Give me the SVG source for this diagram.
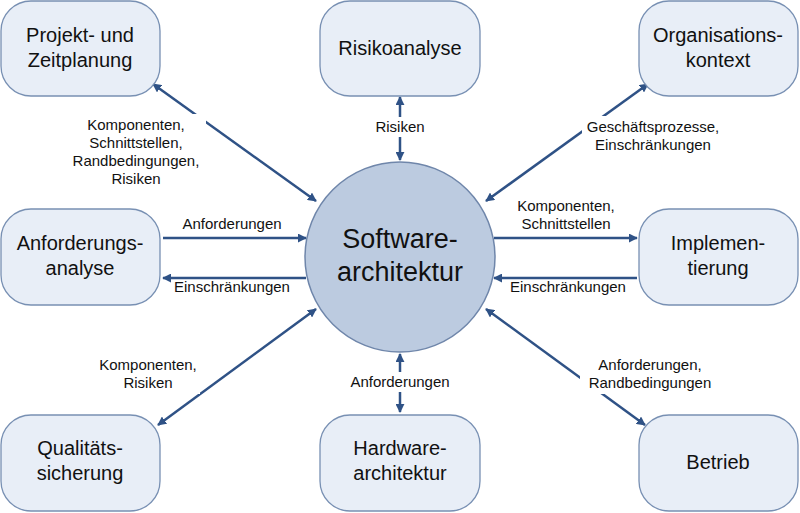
<svg xmlns="http://www.w3.org/2000/svg" width="800" height="513" viewBox="0 0 800 513">
<defs>
<marker id="a" viewBox="0 0 10 10" refX="9" refY="5" markerWidth="9" markerHeight="9" markerUnits="userSpaceOnUse" orient="auto-start-reverse"><path d="M0,0 L10,5 L0,10 z" fill="#2f5286"/></marker>
<style>
.n rect{fill:#e8eef7;stroke:#7890b3;stroke-width:1.3}
.n text{font-family:"Liberation Sans",Arial,sans-serif;font-size:20px;fill:#111;text-anchor:middle}
.l{font-family:"Liberation Sans",Arial,sans-serif;font-size:15px;fill:#111;text-anchor:middle}
.c line{stroke:#2f5286;stroke-width:2.5}
.bg{fill:#fff}
</style>
</defs>
<rect width="800" height="513" fill="#fff"/>
<g class="c">
<line x1="153" y1="84" x2="316" y2="201" marker-start="url(#a)" marker-end="url(#a)"/>
<line x1="400" y1="97" x2="400" y2="160" marker-start="url(#a)" marker-end="url(#a)"/>
<line x1="648" y1="84" x2="486" y2="201" marker-start="url(#a)" marker-end="url(#a)"/>
<line x1="163" y1="238" x2="306" y2="238" marker-end="url(#a)"/>
<line x1="306" y1="278" x2="163" y2="278" marker-end="url(#a)"/>
<line x1="494" y1="238" x2="637" y2="238" marker-end="url(#a)"/>
<line x1="637" y1="278" x2="494" y2="278" marker-end="url(#a)"/>
<line x1="158" y1="425" x2="316" y2="309" marker-start="url(#a)" marker-end="url(#a)"/>
<line x1="400" y1="354" x2="400" y2="412" marker-start="url(#a)" marker-end="url(#a)"/>
<line x1="486" y1="309" x2="645" y2="425" marker-start="url(#a)" marker-end="url(#a)"/>
</g>
<g id="labels">
<rect class="bg" x="70" y="114" width="136" height="76"/>
<text class="l" x="136" y="130">Komponenten,</text>
<text class="l" x="136" y="148">Schnittstellen,</text>
<text class="l" x="136" y="166">Randbedingungen,</text>
<text class="l" x="136" y="184">Risiken</text>
<rect class="bg" x="370" y="117" width="60" height="20"/>
<text class="l" x="400" y="132">Risiken</text>
<rect class="bg" x="582" y="116" width="142" height="40"/>
<text class="l" x="653" y="132">Geschäftsprozesse,</text>
<text class="l" x="653" y="150">Einschränkungen</text>
<text class="l" x="232" y="229">Anforderungen</text>
<text class="l" x="232" y="292">Einschränkungen</text>
<text class="l" x="566" y="211">Komponenten,</text>
<text class="l" x="566" y="229">Schnittstellen</text>
<text class="l" x="568" y="292">Einschränkungen</text>
<rect class="bg" x="96" y="354" width="104" height="40"/>
<text class="l" x="148" y="370">Komponenten,</text>
<text class="l" x="148" y="388">Risiken</text>
<rect class="bg" x="345" y="372" width="110" height="20"/>
<text class="l" x="400" y="387">Anforderungen</text>
<rect class="bg" x="580" y="354" width="140" height="40"/>
<text class="l" x="650" y="370">Anforderungen,</text>
<text class="l" x="650" y="388">Randbedingungen</text>
</g>
<g id="center"><circle cx="400" cy="257" r="95" fill="#bccbe0" stroke="#6f86aa" stroke-width="1.5"/>
<text x="400" y="248" font-family="Liberation Sans,Arial,sans-serif" font-size="27" text-anchor="middle" fill="#111">Software-</text>
<text x="400" y="281" font-family="Liberation Sans,Arial,sans-serif" font-size="27" text-anchor="middle" fill="#111">architektur</text></g>
<g id="n1" class="n"><rect x="1" y="1" width="159" height="95" rx="30"/><text x="80" y="42">Projekt- und</text><text x="80" y="67">Zeitplanung</text></g>
<g id="n2" class="n"><rect x="320" y="1" width="160" height="95" rx="30"/><text x="400" y="55">Risikoanalyse</text></g>
<g id="n3" class="n"><rect x="639" y="1" width="159" height="95" rx="30"/><text x="718" y="42">Organisations-</text><text x="718" y="67">kontext</text></g>
<g id="n4" class="n"><rect x="1" y="209" width="159" height="96" rx="30"/><text x="80" y="250">Anforderungs-</text><text x="80" y="275">analyse</text></g>
<g id="n5" class="n"><rect x="639" y="209" width="159" height="96" rx="30"/><text x="718" y="250">Implemen-</text><text x="718" y="275">tierung</text></g>
<g id="n6" class="n"><rect x="1" y="415" width="159" height="96" rx="30"/><text x="80" y="455">Qualitäts-</text><text x="80" y="480">sicherung</text></g>
<g id="n7" class="n"><rect x="320" y="415" width="160" height="96" rx="30"/><text x="400" y="455">Hardware-</text><text x="400" y="480">architektur</text></g>
<g id="n8" class="n"><rect x="639" y="415" width="159" height="96" rx="30"/><text x="718" y="469">Betrieb</text></g>
</svg>
